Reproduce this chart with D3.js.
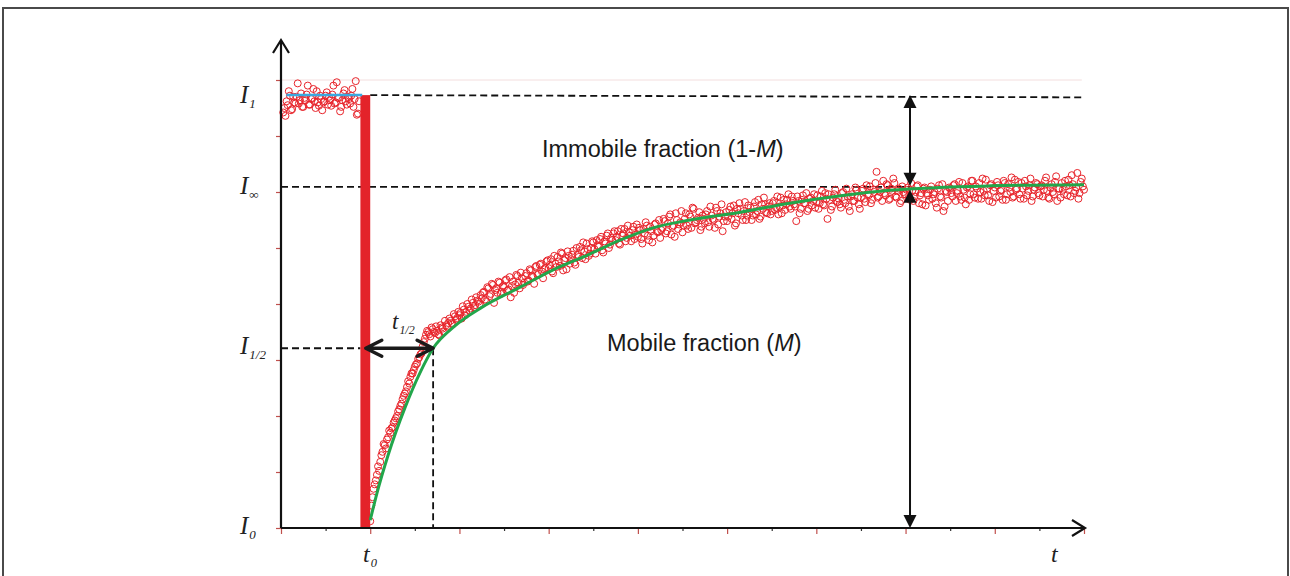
<!DOCTYPE html>
<html>
<head>
<meta charset="utf-8">
<script src="https://cdn.jsdelivr.net/npm/d3@7"></script>
<style>
	body { margin: 0; background: #fff; }
	svg { display: block; }
	.math { font-family: 'Liberation Serif', 'Times New Roman', serif; font-style: italic; fill: #222; }
	.note { font-family: 'Liberation Sans', Arial, sans-serif; font-size: 23.5px; fill: #1a1a1a; }
</style>
</head>
<body>
<script>
// FRAP recovery curve: pre-bleach, bleach at t0, recovery towards I-infinity

const WIDTH = 1290;
const HEIGHT = 576;

// time axis: ticks every unit, intensities on an arbitrary 0..8 scale
const X_TICKS = d3.range(0, 19);
const Y_TICKS = d3.range(0, 9);

const FRAME_DT = 0.05;
const PREBLEACH_START = 0.05;
const BLEACH_START = 1.78;
const T0 = 2.0;
const T_HALF = 3.41;
const T_ARROW = 14.1;

const LEVEL_I1 = 7.73;
const LEVEL_INF = 6.09;
const LEVEL_HALF = 3.21;

// two interleaved acquisitions (second one shifted by half a frame)
const PREBLEACH_I = [
	7.42, 7.36, 7.55, 7.72, 7.48, 7.60, 7.70, 7.58, 7.76, 7.52,
	7.64, 7.90, 7.56, 7.68, 7.62, 7.80, 7.54, 7.66, 7.60, 7.72,
	7.56, 7.64, 7.74, 7.58, 7.96, 7.68, 7.52, 7.76, 7.62, 7.70,
	7.58, 7.84, 7.66, 7.38, 7.62
];
const PREBLEACH_I_B = [
	7.50, 7.62, 7.80, 7.46, 7.70, 7.58, 7.94, 7.64, 7.52, 7.68,
	7.74, 7.56, 7.66, 7.84, 7.50, 7.60, 7.72, 7.46, 7.62, 7.78,
	7.70, 7.54, 7.90, 7.60, 7.68, 7.44, 7.64, 7.82, 7.56, 7.66,
	7.72, 7.52, 7.98, 7.40
];

const RECOVERY_I = [
	0.12, 0.55, 0.78, 0.95, 1.02, 1.30, 1.50, 1.42, 1.62, 1.70,
	1.80, 1.92, 2.00, 2.12, 2.22, 2.36, 2.44, 2.62, 2.70, 2.76,
	2.88, 2.94, 3.05, 3.12, 3.32, 3.45, 3.50, 3.42, 3.55, 3.48,
	3.52, 3.44, 3.58, 3.50, 3.62, 3.66, 3.70, 3.64, 3.78, 3.75,
	3.80, 3.74, 3.90, 3.86, 3.95, 3.92, 4.02, 3.98, 4.06, 4.00,
	4.10, 4.22, 4.05, 4.28, 4.18, 4.34, 4.25, 4.20, 4.38, 4.22,
	4.30, 4.44, 4.26, 4.12, 4.40, 4.35, 4.50, 4.28, 4.46, 4.38,
	4.55, 4.42, 4.60, 4.48, 4.66, 4.52, 4.70, 4.58, 4.62, 4.76,
	4.64, 4.80, 4.55, 4.72, 4.84, 4.68, 4.90, 4.78, 4.62, 4.86,
	4.80, 4.95, 4.70, 4.88, 5.02, 4.82, 4.94, 5.08, 4.86, 5.00,
	5.10, 4.90, 5.04, 5.16, 4.96, 5.12, 5.22, 5.00, 5.18, 5.26,
	5.14, 5.30, 5.06, 5.22, 5.34, 5.18, 5.28, 5.12, 5.38, 5.24,
	5.20, 5.32, 5.08, 5.26, 5.40, 5.14, 5.30, 5.22, 5.44, 5.28,
	5.18, 5.36, 5.48, 5.30, 5.56, 5.24, 5.40, 5.62, 5.34, 5.46,
	5.28, 5.52, 5.40, 5.60, 5.36, 5.70, 5.46, 5.54, 5.32, 5.58,
	5.44, 5.66, 5.38, 5.58, 5.50, 5.72, 5.42, 5.62, 5.30, 5.56,
	5.48, 5.68, 5.52, 5.76, 5.44, 5.62, 5.70, 5.50, 5.82, 5.58,
	5.64, 5.50, 5.74, 5.60, 5.86, 5.56, 5.70, 5.78, 5.62, 5.80,
	5.66, 5.84, 5.72, 5.60, 5.90, 5.76, 5.68, 5.86, 5.74, 5.92,
	5.78, 5.48, 5.84, 5.70, 5.94, 5.80, 5.66, 5.88, 5.76, 5.96,
	5.82, 5.70, 5.92, 5.78, 5.98, 5.52, 5.86, 5.74, 5.96, 5.84,
	5.88, 5.72, 6.00, 5.80, 5.92, 5.66, 5.96, 5.84, 6.04, 5.78,
	5.90, 6.06, 5.82, 5.96, 6.10, 5.86, 6.00, 6.36, 5.92, 6.08,
	6.20, 5.94, 6.12, 5.88, 6.02, 6.16, 5.90, 6.06, 5.84, 6.00,
	5.96, 6.08, 5.86, 6.02, 5.92, 6.10, 5.80, 5.98, 6.06, 5.76,
	5.94, 6.04, 5.88, 6.00, 5.72, 6.12, 5.90, 5.66, 6.02, 5.84,
	6.06, 5.92, 6.14, 5.98, 6.18, 5.86, 6.04, 5.78, 6.10, 5.96,
	6.20, 5.90, 6.06, 6.16, 5.88, 6.02, 6.22, 5.94, 6.12, 5.82,
	6.08, 6.18, 5.92, 6.04, 6.20, 5.86, 6.14, 6.00, 5.90, 6.22,
	6.06, 5.96, 6.16, 5.88, 6.10, 6.02, 6.24, 5.92, 6.08, 6.14,
	5.94, 6.12, 6.04, 6.26, 5.90, 6.08, 6.00, 6.18, 5.84, 6.06,
	6.16, 5.96, 6.10, 6.22, 5.92, 6.14, 6.02, 6.34, 5.98, 6.24,
	6.04
];
const RECOVERY_I_B = [
	0.40, 0.70, 0.85, 1.10, 1.18, 1.36, 1.48, 1.58, 1.74, 1.78,
	1.88, 1.96, 2.08, 2.18, 2.30, 2.40, 2.52, 2.58, 2.76, 2.82,
	2.92, 3.02, 3.10, 3.24, 3.38, 3.52, 3.46, 3.58, 3.50, 3.60,
	3.46, 3.62, 3.56, 3.70, 3.60, 3.74, 3.66, 3.82, 3.72, 3.86,
	3.84, 3.96, 3.80, 4.00, 3.88, 4.08, 3.94, 4.12, 4.04, 4.16,
	4.20, 4.08, 4.30, 4.14, 4.36, 4.02, 4.28, 4.40, 4.18, 4.32,
	4.42, 4.24, 4.48, 4.32, 4.20, 4.52, 4.38, 4.56, 4.34, 4.50,
	4.40, 4.62, 4.50, 4.36, 4.68, 4.54, 4.72, 4.46, 4.64, 4.78,
	4.70, 4.58, 4.86, 4.66, 4.76, 4.92, 4.60, 4.82, 4.94, 4.72,
	4.88, 4.74, 5.00, 4.84, 4.96, 5.10, 4.80, 4.98, 4.90, 5.12,
	4.98, 5.14, 5.02, 5.20, 4.92, 5.08, 5.26, 5.06, 5.14, 5.30,
	5.20, 5.08, 5.34, 5.26, 5.12, 5.40, 5.22, 5.32, 5.16, 5.42,
	5.36, 5.16, 5.34, 5.46, 5.22, 5.38, 5.10, 5.42, 5.30, 5.50,
	5.32, 5.52, 5.26, 5.44, 5.60, 5.38, 5.20, 5.50, 5.42, 5.66,
	5.40, 5.62, 5.34, 5.56, 5.72, 5.44, 5.50, 5.64, 5.38, 5.52,
	5.60, 5.46, 5.74, 5.52, 5.36, 5.66, 5.56, 5.78, 5.48, 5.64,
	5.56, 5.74, 5.62, 5.40, 5.70, 5.80, 5.58, 5.66, 5.50, 5.76,
	5.72, 5.58, 5.82, 5.66, 5.52, 5.78, 5.90, 5.64, 5.74, 5.60,
	5.80, 5.68, 5.92, 5.74, 5.62, 5.86, 5.78, 5.96, 5.70, 5.84,
	5.74, 5.92, 5.62, 5.86, 5.80, 5.98, 5.70, 5.90, 5.84, 5.72,
	5.94, 5.80, 6.02, 5.76, 5.88, 5.96, 5.68, 5.90, 6.04, 5.82,
	5.78, 5.98, 5.86, 6.06, 5.74, 5.92, 5.84, 6.08, 5.90, 5.70,
	6.02, 5.88, 6.12, 5.94, 5.80, 6.04, 6.16, 5.90, 6.00, 5.84,
	5.98, 6.14, 5.86, 6.06, 6.24, 5.92, 6.02, 5.80, 6.10, 5.96,
	6.04, 5.90, 6.16, 5.84, 6.00, 6.12, 5.94, 5.78, 6.08, 5.98,
	5.86, 6.10, 5.96, 5.80, 6.06, 5.92, 6.14, 5.74, 6.00, 6.08,
	5.98, 6.12, 5.84, 6.02, 5.92, 6.16, 5.90, 6.08, 5.86, 6.20,
	5.96, 6.10, 5.88, 6.00, 6.24, 5.94, 6.06, 5.84, 6.14, 6.02,
	5.90, 6.12, 6.02, 5.86, 6.16, 5.96, 6.08, 6.26, 5.92, 6.04,
	6.18, 5.88, 6.06, 6.20, 5.94, 6.12, 5.84, 6.04, 6.16, 5.98,
	6.10, 5.92, 6.20, 6.02, 5.88, 6.14, 5.96, 6.28, 6.06, 5.90,
	6.04, 6.20, 5.94, 6.12, 6.30, 5.98, 6.08, 5.88, 6.18, 6.10
];

const FIT_T = [2.0, 2.15, 2.4, 2.78, 3.12, 3.41, 3.9, 4.5, 5.36, 6.1, 6.86, 7.6, 8.34, 9.17, 10.3, 11.4, 12.5, 13.65, 15.9, 18.0];
const FIT_I = [0.14, 0.62, 1.30, 2.15, 2.78, 3.21, 3.61, 3.94, 4.30, 4.61, 4.87, 5.14, 5.36, 5.50, 5.64, 5.80, 5.93, 6.03, 6.11, 6.13];

const toPoints = (values, start) => values.map((v, i) => ({ t: start + i * FRAME_DT, I: v }));
const points = [].concat(
	toPoints(PREBLEACH_I, PREBLEACH_START),
	toPoints(PREBLEACH_I_B, PREBLEACH_START + FRAME_DT / 2),
	toPoints(RECOVERY_I, T0),
	toPoints(RECOVERY_I_B, T0 + FRAME_DT / 2)
);
const fit = FIT_T.map((t, i) => ({ t: t, I: FIT_I[i] }));

const svg = d3.select('body').append('svg').attr('width', WIDTH).attr('height', HEIGHT);

const xScale = d3.scaleLinear().domain([0, 18]).range([281, 1084]);
const yScale = d3.scaleLinear().domain([0, 8]).range([528, 80]);

// outer frame
svg
	.append('rect')
	.attr('x', 3)
	.attr('y', 8)
	.attr('width', 1285)
	.attr('height', 620)
	.attr('fill', 'none')
	.attr('stroke', '#4a4a4a')
	.attr('stroke-width', 2);

// faint top line
svg
	.append('line')
	.attr('x1', xScale(0))
	.attr('x2', xScale(17.95))
	.attr('y1', yScale(8))
	.attr('y2', yScale(8))
	.attr('stroke', '#f3dede')
	.attr('stroke-width', 1);

// axes ticks
const xAxis = svg
	.append('g')
	.attr('transform', 'translate(0,' + yScale(0) + ')')
	.call(d3.axisBottom(xScale).tickValues(X_TICKS).tickSize(5).tickFormat(''));
xAxis.select('.domain').remove();
xAxis
	.selectAll('.tick line')
	.attr('y2', (d) => (d % 2 == 0 ? 6 : 3))
	.attr('stroke', (d) => (d % 2 == 0 ? '#c0504d' : '#333'))
	.attr('stroke-width', 1.2);

const yAxis = svg
	.append('g')
	.attr('transform', 'translate(' + xScale(0) + ',0)')
	.call(d3.axisLeft(yScale).tickValues(Y_TICKS).tickSize(5).tickFormat(''));
yAxis.select('.domain').remove();
yAxis.selectAll('.tick line').attr('stroke', '#c0504d').attr('stroke-width', 1.2);

// dashed guide lines
const dashed = (x1, y1, x2, y2) =>
	svg
		.append('line')
		.attr('x1', xScale(x1))
		.attr('y1', yScale(y1))
		.attr('x2', xScale(x2))
		.attr('y2', yScale(y2))
		.attr('stroke', '#111')
		.attr('stroke-width', 1.8)
		.attr('stroke-dasharray', '7,4');

dashed(T0, LEVEL_I1, 18, LEVEL_I1 - 0.04);
dashed(0, LEVEL_INF, T_ARROW, LEVEL_INF);
dashed(0, LEVEL_HALF, BLEACH_START, LEVEL_HALF);
dashed(T_HALF, LEVEL_HALF, T_HALF, 0);

// bleach bar
svg
	.append('rect')
	.attr('x', xScale(BLEACH_START))
	.attr('y', yScale(LEVEL_I1))
	.attr('width', xScale(T0) - xScale(BLEACH_START))
	.attr('height', yScale(0) - yScale(LEVEL_I1))
	.attr('fill', '#e3232a');

// data points
svg
	.append('g')
	.selectAll('circle')
	.data(points)
	.enter()
	.append('circle')
	.attr('cx', (d) => xScale(d.t))
	.attr('cy', (d) => yScale(d.I))
	.attr('r', 3.5)
	.attr('fill', 'none')
	.attr('stroke', '#e8242b')
	.attr('stroke-width', 1);

// pre-bleach mean
svg
	.append('line')
	.attr('x1', xScale(0.12))
	.attr('x2', xScale(1.82))
	.attr('y1', yScale(LEVEL_I1))
	.attr('y2', yScale(LEVEL_I1))
	.attr('stroke', '#3aa8df')
	.attr('stroke-width', 2.5);

// fitted curve
svg
	.append('path')
	.datum(fit)
	.attr('d', d3.line().x((d) => xScale(d.t)).y((d) => yScale(d.I)).curve(d3.curveMonotoneX))
	.attr('fill', 'none')
	.attr('stroke', '#22a64b')
	.attr('stroke-width', 3);

// axis lines with open arrow heads
const x0 = xScale(0);
const y0 = yScale(0);
svg
	.append('path')
	.attr('d', 'M' + x0 + ',' + y0 + 'V40M' + (x0 - 8) + ',53L' + x0 + ',40L' + (x0 + 8) + ',53')
	.attr('fill', 'none')
	.attr('stroke', '#111')
	.attr('stroke-width', 2.2);
svg
	.append('path')
	.attr('d', 'M' + x0 + ',' + y0 + 'H1085M1072,' + (y0 - 8) + 'L1085,' + y0 + 'L1072,' + (y0 + 8))
	.attr('fill', 'none')
	.attr('stroke', '#111')
	.attr('stroke-width', 2.2);

// t1/2 double arrow
const hx1 = xScale(1.9);
const hx2 = xScale(T_HALF);
const hy = yScale(LEVEL_HALF);
svg
	.append('path')
	.attr(
		'd',
		'M' + hx1 + ',' + hy + 'H' + hx2 +
			'M' + (hx1 + 16) + ',' + (hy - 8) + 'L' + hx1 + ',' + hy + 'L' + (hx1 + 16) + ',' + (hy + 8) +
			'M' + (hx2 - 16) + ',' + (hy - 8) + 'L' + hx2 + ',' + hy + 'L' + (hx2 - 16) + ',' + (hy + 8)
	)
	.attr('fill', 'none')
	.attr('stroke', '#1a1a1a')
	.attr('stroke-width', 3.5)
	.attr('stroke-linecap', 'round')
	.attr('stroke-linejoin', 'round');

// vertical double arrows with filled heads
function doubleArrow(t, top, bottom) {
	const x = xScale(t);
	const yt = yScale(top);
	const yb = yScale(bottom);
	svg
		.append('line')
		.attr('x1', x)
		.attr('x2', x)
		.attr('y1', yt + 6)
		.attr('y2', yb - 6)
		.attr('stroke', '#111')
		.attr('stroke-width', 2);
	svg
		.append('path')
		.attr('d', 'M' + x + ',' + yt + 'L' + (x - 6.5) + ',' + (yt + 13) + 'L' + (x + 6.5) + ',' + (yt + 13) + 'Z')
		.attr('fill', '#111');
	svg
		.append('path')
		.attr('d', 'M' + x + ',' + yb + 'L' + (x - 6.5) + ',' + (yb - 13) + 'L' + (x + 6.5) + ',' + (yb - 13) + 'Z')
		.attr('fill', '#111');
}
doubleArrow(T_ARROW, LEVEL_I1, LEVEL_INF + 0.02);
doubleArrow(T_ARROW, LEVEL_INF - 0.05, 0);

// math labels
function mathLabel(x, y, main, sub, size) {
	const txt = svg.append('text').attr('class', 'math').attr('x', x).attr('y', y).attr('font-size', size);
	txt.append('tspan').text(main);
	txt.append('tspan').attr('font-size', size * 0.52).attr('dy', size * 0.2).attr('dx', 1).text(sub);
}
mathLabel(240, 103, 'I', '1', 25);
mathLabel(240, 194, 'I', '\u221E', 25);
mathLabel(240, 354, 'I', '1/2', 25);
mathLabel(240, 534, 'I', '0', 25);
mathLabel(363, 562, 't', '0', 24);
mathLabel(392, 329, 't', '1/2', 23);
svg.append('text').attr('class', 'math').attr('x', 1051).attr('y', 562).attr('font-size', 24).text('t');

// fraction notes
const imm = svg.append('text').attr('class', 'note').attr('x', 542).attr('y', 157);
imm.append('tspan').text('Immobile fraction (1-');
imm.append('tspan').attr('font-style', 'italic').text('M');
imm.append('tspan').text(')');

const mob = svg.append('text').attr('class', 'note').attr('x', 607).attr('y', 351);
mob.append('tspan').text('Mobile fraction (');
mob.append('tspan').attr('font-style', 'italic').text('M');
mob.append('tspan').text(')');
</script>
</body>
</html>
